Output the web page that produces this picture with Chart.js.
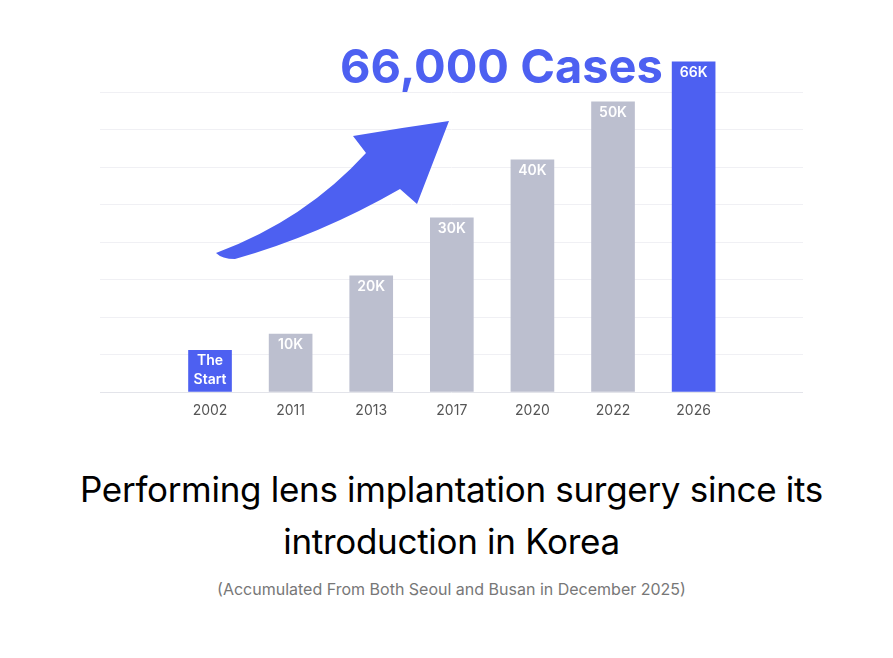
<!DOCTYPE html>
<html>
<head>
<meta charset="utf-8">
<script src="https://cdn.jsdelivr.net/npm/chart.js@4.4.1/dist/chart.umd.min.js"></script>
<style>
  body { margin: 0; background: #fff; font-family: Inter, 'Noto Sans', sans-serif; }
  #chart-box { position: relative; width: 893px; height: 440px; }
  #title { margin: 23px 0 0 0; padding-left: 10px; text-align: center; font-size: 35px; line-height: 52px; color: #000; font-weight: 400; letter-spacing: -0.3px; }
  #subtitle { margin-top: 12px; padding-left: 10px; text-align: center; font-size: 16px; color: #777; }
</style>
</head>
<body>
<div id="chart-box"><canvas id="myChart"></canvas></div>
<div id="title">Performing lens implantation surgery since its<br>introduction in Korea</div>
<div id="subtitle">(Accumulated From Both Seoul and Busan in December 2025)</div>

<script>
'use strict';

// GLOBALS
let years = ['2002', '2011', '2013', '2017', '2020', '2022', '2026'];
// bar heights as drawn (thousands of cases); last bar is drawn shorter than its label
let barHeights = [7.2, 10, 20, 30, 40, 50, 56.9];
let barLabels = [['The', 'Start'], ['10K'], ['20K'], ['30K'], ['40K'], ['50K'], ['66K']];
let headline = '66,000 Cases';

let blue = 'rgb(77,96,241)';
let grey = 'rgb(188,191,207)';

// colors: first and last bars are highlighted
let barColors = years.map((y, i) => (i === 0 || i === years.length - 1) ? blue : grey);

// labels written inside the top of each bar
let barLabelPlugin = {
  id: 'barLabels',
  afterDatasetsDraw(chart) {
    let ctx = chart.ctx;
    let meta = chart.getDatasetMeta(0);
    ctx.save();
    ctx.fillStyle = '#fff';
    ctx.font = '600 14px Inter';
    ctx.textAlign = 'center';
    ctx.textBaseline = 'middle';
    meta.data.forEach((bar, i) => {
      let lines = barLabels[i];
      for (let j = 0; j < lines.length; j++) {
        ctx.fillText(lines[j], bar.x, bar.y + 11 + j * 19);
      }
    });
    ctx.restore();
  }
};

// big headline and the arrow
let decorPlugin = {
  id: 'decor',
  afterDraw(chart) {
    let ctx = chart.ctx;
    ctx.save();
    ctx.fillStyle = blue;
    ctx.font = '700 47px Inter';
    ctx.textAlign = 'left';
    ctx.textBaseline = 'alphabetic';
    ctx.fillText(headline, 340, 83);

    ctx.beginPath();
    ctx.moveTo(216, 253);
    ctx.quadraticCurveTo(305, 220, 366, 153);
    ctx.lineTo(353, 136);
    ctx.quadraticCurveTo(400, 128, 449, 121);
    ctx.lineTo(417, 204);
    ctx.lineTo(400, 189);
    ctx.quadraticCurveTo(320, 235, 235, 259);
    ctx.quadraticCurveTo(222, 259, 216, 253);
    ctx.closePath();
    ctx.fill();
    ctx.restore();
  }
};

let canvasChart = document.getElementById('myChart');

const data = {
  datasets: [{
    data: barHeights.map((v, i) => ({ x: i, y: v })),
    backgroundColor: barColors,
    borderWidth: 0,
    barThickness: 43,
    clip: false
  }]
};

const config = {
  type: 'bar',
  data: data,
  options: {
    responsive: true,
    maintainAspectRatio: false,
    animation: false,
    layout: {
      padding: { left: 100, right: 90, top: 92, bottom: 0 }
    },
    plugins: {
      legend: { display: false },
      tooltip: { enabled: false }
    },
    scales: {
      x: {
        type: 'linear',
        min: -1.365,
        max: 7.357,
        offset: false,
        grid: { display: false },
        border: { display: false },
        afterBuildTicks: (axis) => { axis.ticks = years.map((y, i) => ({ value: i })); },
        afterFit: (axis) => { axis.height = 48; },
        ticks: {
          padding: 2,
          color: '#555',
          font: { family: 'Inter', size: 14 },
          autoSkip: false,
          maxRotation: 0,
          callback: (v) => years[v]
        }
      },
      y: {
        min: 0,
        max: 51.7,
        afterFit: (axis) => { axis.width = 0; },
        border: { display: false },
        grid: {
          drawTicks: false,
          color: (c) => c.tick.value === 0 ? '#e3e4ea' : '#f0f0f4'
        },
        ticks: { display: false, count: 9 }
      }
    }
  },
  plugins: [barLabelPlugin, decorPlugin]
};

const myChart = new Chart(canvasChart, config);
</script>
</body>
</html>
